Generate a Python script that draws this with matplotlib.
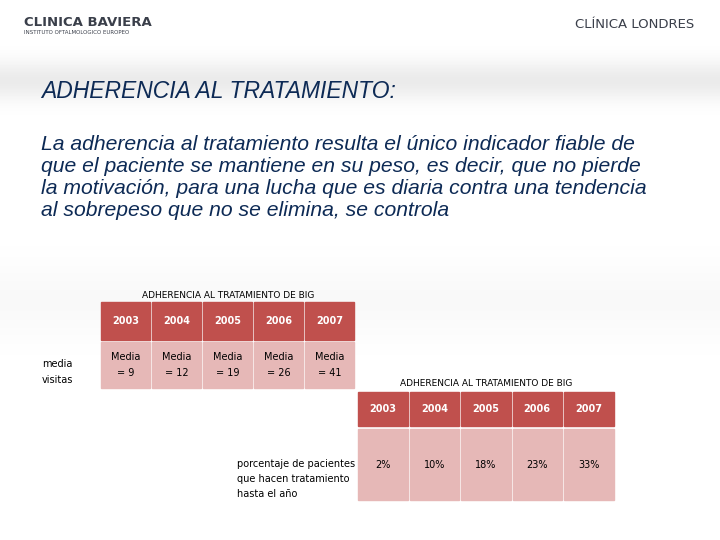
import numpy as np
import matplotlib.pyplot as plt
from matplotlib.patches import Rectangle

years = ['2003', '2004', '2005', '2006', '2007']
visitas = [9, 12, 19, 26, 41]
porcentaje = [2, 10, 18, 23, 33]

HEAD = '#c0504d'
BODY = '#e6b8b7'

fig = plt.figure(figsize=(7.2, 5.4), dpi=100)
ax = fig.add_axes([0, 0, 1, 1])
ax.set_xlim(0, 720)
ax.set_ylim(540, 0)
ax.axis('off')

# soft grey band behind the title
yy = np.arange(540.0)
band = 1 - 0.08 * np.exp(-((yy - 80) / 20.0) ** 2) \
    - 0.025 * np.exp(-((yy - 300) / 40.0) ** 2)
ax.imshow(np.repeat(band[:, None], 2, axis=1), cmap='gray', vmin=0, vmax=1,
          extent=[0, 720, 540, 0], aspect='auto', zorder=0)

ax.text(24, 22, 'CLINICA BAVIERA', fontsize=9.5, fontweight='bold',
        color='#3a3f4a', va='center')
ax.text(24, 32, 'INSTITUTO OFTALMOLOGICO EUROPEO', fontsize=4,
        color='#3a3f4a', va='center')
ax.text(694, 25, 'CLÍNICA LONDRES', fontsize=9.5, color='#3a3f4a',
        va='center', ha='right')

ax.text(41, 91, 'ADHERENCIA AL TRATAMIENTO:', fontsize=16.5, style='italic',
        color='#0d2a55', va='center', family='Liberation Sans')
body = ('La adherencia al tratamiento resulta el único indicador fiable de\n'
        'que el paciente se mantiene en su peso, es decir, que no pierde\n'
        'la motivación, para una lucha que es diaria contra una tendencia\n'
        'al sobrepeso que no se elimina, se controla')
ax.text(41, 178, body, fontsize=15.2, style='italic', color='#0d2a55',
        va='center', linespacing=1.2, family='Liberation Sans')


def table(x0, w, yh, hh, yb, hb, labels, title, tx, ty):
    ax.text(tx, ty, title, fontsize=6.5, ha='center', va='center')
    for i, (yr, lab) in enumerate(zip(years, labels)):
        x = x0 + i * (w + 2)
        ax.add_patch(Rectangle((x, yh), w, hh, color=HEAD, zorder=2))
        ax.add_patch(Rectangle((x, yb), w, hb, color=BODY, zorder=2))
        ax.text(x + w / 2, yh + hh / 2, yr, color='white', fontsize=7,
                fontweight='bold', ha='center', va='center', zorder=3)
        ax.text(x + w / 2, yb + hb / 2, lab, fontsize=7, ha='center',
                va='center', linespacing=1.7, zorder=3)


table(101, 49, 302, 38, 342, 46, ['Media\n= %d' % v for v in visitas],
      'ADHERENCIA AL TRATAMIENTO DE BIG', 228, 295)
ax.text(42, 372, 'media\nvisitas', fontsize=7, va='center', linespacing=1.7)

table(358, 49.5, 392, 34, 429, 71, ['%d%%' % v for v in porcentaje],
      'ADHERENCIA AL TRATAMIENTO DE BIG', 486, 384)
ax.text(237, 479, 'porcentaje de pacientes\nque hacen tratamiento\nhasta el año',
        fontsize=7, va='center', linespacing=1.6)

fig.savefig('out.png', dpi=100)
